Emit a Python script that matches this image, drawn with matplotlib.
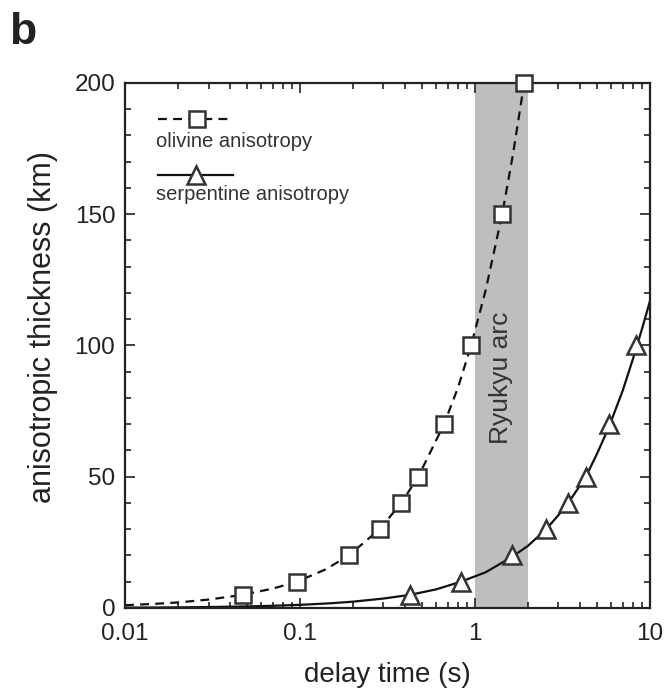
import matplotlib
matplotlib.use("Agg")
import matplotlib.pyplot as plt
from matplotlib.lines import Line2D
from matplotlib.ticker import LogLocator, MultipleLocator, FixedLocator, FixedFormatter

plt.rcParams['font.family'] = ['Liberation Sans', 'DejaVu Sans']

# ---- data ----
olivine_dt = [0.047, 0.096, 0.19, 0.285, 0.379, 0.474, 0.665, 0.95, 1.43, 1.91]
olivine_th = [5, 10, 20, 30, 40, 50, 70, 100, 150, 200]

serp_dt = [0.425, 0.83, 1.63, 2.55, 3.41, 4.3, 5.83, 8.27]
serp_th = [5, 10, 20, 30, 40, 50, 70, 100]

# trend curves
olivine_curve_dt = [0.01, 0.015, 0.02, 0.03, 0.047, 0.07, 0.096, 0.14, 0.19, 0.285,
                    0.379, 0.474, 0.665, 0.8, 0.95, 1.15, 1.43, 1.65, 1.91]
olivine_curve_th = [1.05, 1.6, 2.1, 3.2, 5, 7.4, 10, 14.7, 20, 30,
                    40, 50, 70, 84, 100, 121, 150, 173, 200]
serp_curve_dt = [0.01, 0.02, 0.03, 0.05, 0.07, 0.1, 0.15, 0.2, 0.3, 0.425, 0.6,
                 0.83, 1.15, 1.63, 2.0, 2.55, 3.0, 3.41, 4.3, 5.0, 5.83, 7.0, 8.27, 9.2, 10]
serp_curve_th = [0.12, 0.24, 0.36, 0.6, 0.84, 1.2, 1.8, 2.4, 3.6, 5, 7.1,
                 10, 13.6, 19.5, 23.6, 30, 35.4, 40, 50, 59, 69, 83, 98, 108.5, 117]

band_range = [1, 2]
band_label = "Ryukyu arc"
x_ticks = [0.01, 0.1, 1, 10]
x_ticklabels = ["0.01", "0.1", "1", "10"]
y_ticks = [0, 50, 100, 150, 200]

# ---- styling ----
ink = '#222222'
mark_ink = '#333333'
band_color = '#bdbec0'

fig = plt.figure(figsize=(6.71, 6.95), dpi=100)
ax = fig.add_axes([0.1863, 0.1252, 0.7824, 0.7554])

ax.axvspan(band_range[0], band_range[1], color=band_color, lw=0, zorder=0)
ax.text((band_range[0] * band_range[1]) ** 0.5, 87.5, band_label, rotation=90,
        ha='center', va='center', fontsize=19, color='#333333', zorder=1)

ax.plot(olivine_curve_dt, olivine_curve_th, ls=(0, (4.0, 2.8)), color='#111111',
        lw=1.6, zorder=2, clip_on=False)
ax.plot(serp_curve_dt, serp_curve_th, ls='-', color='#111111', lw=1.6, zorder=2,
        clip_on=True)

ax.plot(olivine_dt, olivine_th, ls='none', marker='s', ms=12, mfc='white',
        mec=mark_ink, mew=1.8, zorder=4, clip_on=False)
ax.plot(serp_dt, serp_th, ls='none', marker='^', ms=13.5, mfc='white',
        mec=mark_ink, mew=1.8, zorder=4, clip_on=False)

ax.set_xscale('log')
ax.set_xlim(0.01, 10)
ax.set_ylim(0, 200)

ax.xaxis.set_major_locator(FixedLocator(x_ticks))
ax.xaxis.set_major_formatter(FixedFormatter(x_ticklabels))
ax.xaxis.set_minor_locator(LogLocator(base=10, subs=range(2, 10), numticks=20))
ax.xaxis.set_minor_formatter(FixedFormatter([]))
ax.yaxis.set_major_locator(FixedLocator(y_ticks))
ax.yaxis.set_minor_locator(MultipleLocator(10))

ax.tick_params(which='both', direction='in', top=True, right=True, colors=ink,
               width=1.2)
ax.tick_params(which='major', length=7, labelsize=17.5, pad=7)
ax.tick_params(which='minor', length=4)
ax.tick_params(axis='x', which='major', pad=11)
for s in ax.spines.values():
    s.set_linewidth(1.6)
    s.set_color(ink)

ax.set_xlabel('delay time (s)', fontsize=20, color='#222222', labelpad=12)
ax.set_ylabel('anisotropic thickness (km)', fontsize=22, color='#222222')
ax.yaxis.set_label_coords(-0.127, 0.535)

# legend drawn inside the axes
tr = ax.transAxes
ax.add_line(Line2D([0.063, 0.198], [0.931, 0.931], transform=tr, ls=(0, (4.0, 2.8)),
                   color='#111111', lw=1.6, zorder=5))
ax.add_line(Line2D([0.137], [0.931], transform=tr, ls='none', marker='s', ms=12,
                   mfc='white', mec=mark_ink, mew=1.8, zorder=6))
ax.text(0.059, 0.888, 'olivine anisotropy', transform=tr, fontsize=14.5,
        va='center', ha='left', color='#333333')
ax.add_line(Line2D([0.063, 0.206], [0.825, 0.825], transform=tr, ls='-',
                   color='#111111', lw=1.6, zorder=5))
ax.add_line(Line2D([0.135], [0.825], transform=tr, ls='none', marker='^', ms=13.5,
                   mfc='white', mec=mark_ink, mew=1.8, zorder=6))
ax.text(0.059, 0.787, 'serpentine anisotropy', transform=tr, fontsize=14.5,
        va='center', ha='left', color='#333333')

fig.text(0.013, 0.953, 'b', fontsize=32, fontweight='bold', va='center', ha='left',
         color='#222222')

fig.savefig('out.png', dpi=100, facecolor='white')
